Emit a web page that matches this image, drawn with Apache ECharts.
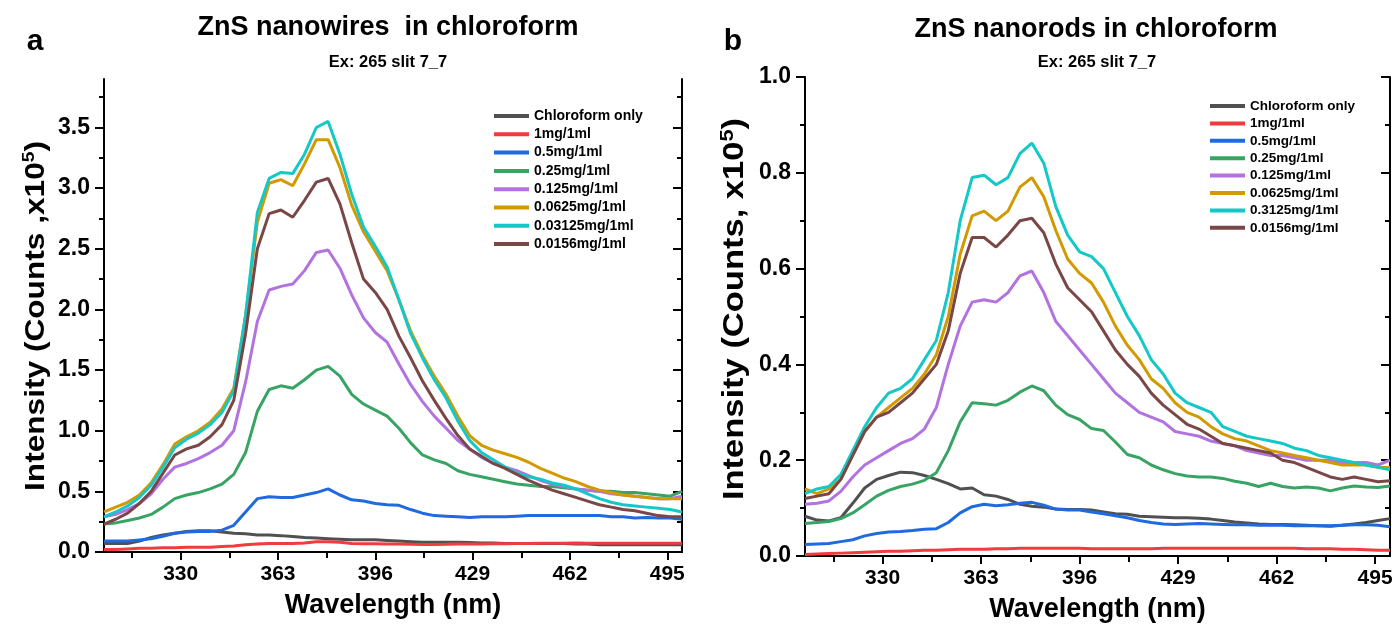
<!DOCTYPE html>
<html>
<head>
<meta charset="utf-8">
<script src="https://cdn.jsdelivr.net/npm/echarts@6/dist/echarts.min.js"></script>
<style>
	html, body { margin: 0; padding: 0; background: #fff; }
	#chart { width: 1397px; height: 628px; }
</style>
</head>
<body>
<div id="chart"></div>
<script>
	"use strict";
	// wavelength (nm), shared by both panels
	var wavelength = [304, 308, 312, 316, 320, 324, 328, 332, 336, 340, 344, 348, 352, 356, 360, 364, 368, 372, 376, 380,
		384, 388, 392, 396, 400, 404, 408, 412, 416, 420, 424, 428, 432, 436, 440, 444, 448, 452, 456, 460,
		464, 468, 472, 476, 480, 484, 488, 492, 496, 500];

	var xMajorTicks = [330, 363, 396, 429, 462, 495];
	var xMinorTicks = [313.5, 346.5, 379.5, 412.5, 445.5, 478.5];
	var yMajorTicksA = [0, 0.5, 1, 1.5, 2, 2.5, 3, 3.5];
	var yMinorTicksA = [0.25, 0.75, 1.25, 1.75, 2.25, 2.75, 3.25, 3.75];
	var yMajorTicksB = [0, 0.2, 0.4, 0.6, 0.8, 1];
	var yMinorTicksB = [0.1, 0.3, 0.5, 0.7, 0.9];

	var namesA = ['Chloroform only', '1mg/1ml', '0.5mg/1ml', '0.25mg/1ml', '0.125mg/1ml', '0.0625mg/1ml', '0.03125mg/1ml', '0.0156mg/1ml'];
	var namesB = ['Chloroform only', '1mg/1ml', '0.5mg/1ml', '0.25mg/1ml', '0.125mg/1ml', '0.0625mg/1ml', '0.3125mg/1ml', '0.0156mg/1ml'];
	var colors = ['#505050', '#f03c3c', '#1f6ae0', '#38a464', '#b272e0', '#d29a00', '#14c8c8', '#7a4646'];

	// panel a : ZnS nanowires (x10^5 counts)
	var chloroA = [0.07, 0.07, 0.07, 0.09, 0.12, 0.14, 0.155, 0.17, 0.175, 0.175, 0.165, 0.155, 0.15, 0.14, 0.14, 0.135, 0.128, 0.12, 0.115, 0.11,
		0.105, 0.1, 0.1, 0.1, 0.095, 0.09, 0.085, 0.08, 0.08, 0.08, 0.08, 0.078, 0.075, 0.075, 0.07, 0.07, 0.07, 0.07, 0.07, 0.07,
		0.065, 0.065, 0.06, 0.06, 0.06, 0.06, 0.06, 0.06, 0.06, 0.06];
	var mg1A = [0.02, 0.02, 0.025, 0.03, 0.03, 0.035, 0.035, 0.04, 0.04, 0.04, 0.045, 0.05, 0.06, 0.065, 0.07, 0.07, 0.07, 0.075, 0.085, 0.085,
		0.08, 0.07, 0.068, 0.068, 0.065, 0.065, 0.063, 0.062, 0.062, 0.063, 0.065, 0.065, 0.065, 0.067, 0.068, 0.07, 0.07, 0.072, 0.072, 0.073,
		0.075, 0.073, 0.073, 0.073, 0.073, 0.073, 0.073, 0.073, 0.073, 0.073];
	var mg05A = [0.09, 0.09, 0.09, 0.1, 0.11, 0.13, 0.155, 0.165, 0.17, 0.17, 0.18, 0.22, 0.33, 0.44, 0.455, 0.45, 0.45, 0.47, 0.49, 0.52,
		0.47, 0.43, 0.42, 0.4, 0.39, 0.385, 0.35, 0.32, 0.3, 0.295, 0.29, 0.285, 0.29, 0.29, 0.29, 0.295, 0.3, 0.3, 0.3, 0.3,
		0.3, 0.3, 0.3, 0.29, 0.29, 0.28, 0.285, 0.28, 0.28, 0.27];
	var mg025A = [0.23, 0.24, 0.26, 0.28, 0.31, 0.37, 0.44, 0.47, 0.49, 0.52, 0.56, 0.64, 0.82, 1.16, 1.34, 1.37, 1.35, 1.42, 1.5, 1.53,
		1.45, 1.3, 1.22, 1.17, 1.12, 1.02, 0.9, 0.8, 0.76, 0.73, 0.67, 0.64, 0.62, 0.6, 0.58, 0.56, 0.55, 0.54, 0.54, 0.53,
		0.52, 0.51, 0.5, 0.5, 0.49, 0.49, 0.48, 0.47, 0.46, 0.5];
	var mg0125A = [0.29, 0.31, 0.35, 0.4, 0.48, 0.6, 0.7, 0.73, 0.77, 0.82, 0.88, 1.0, 1.4, 1.9, 2.16, 2.19, 2.21, 2.32, 2.47, 2.49,
		2.34, 2.12, 1.93, 1.81, 1.73, 1.55, 1.38, 1.24, 1.12, 1.02, 0.92, 0.85, 0.78, 0.73, 0.7, 0.67, 0.63, 0.59, 0.56, 0.54,
		0.52, 0.51, 0.5, 0.48, 0.47, 0.46, 0.45, 0.44, 0.44, 0.46];
	var mg00625A = [0.33, 0.37, 0.41, 0.47, 0.57, 0.72, 0.89, 0.95, 1.0, 1.07, 1.18, 1.35, 1.95, 2.72, 3.04, 3.07, 3.02, 3.2, 3.4, 3.4,
		3.17, 2.86, 2.64, 2.48, 2.32, 2.08, 1.82, 1.62, 1.45, 1.3, 1.12, 0.96, 0.88, 0.84, 0.81, 0.78, 0.74, 0.69, 0.65, 0.61,
		0.58, 0.54, 0.51, 0.49, 0.47, 0.46, 0.45, 0.44, 0.44, 0.44];
	var mg003125A = [0.29, 0.33, 0.38, 0.45, 0.55, 0.7, 0.86, 0.93, 0.98, 1.05, 1.15, 1.33, 1.95, 2.8, 3.08, 3.13, 3.12, 3.28, 3.5, 3.55,
		3.28, 2.95, 2.68, 2.52, 2.35, 2.08, 1.8, 1.6, 1.42, 1.27, 1.08, 0.92, 0.82, 0.76, 0.7, 0.65, 0.62, 0.6, 0.57, 0.55,
		0.52, 0.48, 0.44, 0.41, 0.39, 0.38, 0.37, 0.36, 0.35, 0.33];
	var mg00156A = [0.23, 0.27, 0.32, 0.4, 0.5, 0.65, 0.8, 0.85, 0.88, 0.95, 1.05, 1.25, 1.8, 2.5, 2.79, 2.82, 2.76, 2.9, 3.05, 3.08,
		2.87, 2.55, 2.25, 2.14, 2.0, 1.78, 1.6, 1.41, 1.25, 1.1, 0.96, 0.85, 0.79, 0.73, 0.69, 0.64, 0.59, 0.55, 0.51, 0.48,
		0.45, 0.42, 0.39, 0.37, 0.35, 0.34, 0.32, 0.3, 0.29, 0.29];

	// panel b : ZnS nanorods (x10^5 counts)
	var chloroB = [0.083, 0.075, 0.073, 0.08, 0.11, 0.142, 0.16, 0.168, 0.175, 0.174, 0.168, 0.16, 0.151, 0.14, 0.142, 0.128, 0.125, 0.118, 0.108, 0.104,
		0.102, 0.098, 0.097, 0.097, 0.096, 0.092, 0.088, 0.087, 0.083, 0.082, 0.081, 0.08, 0.08, 0.079, 0.077, 0.074, 0.071, 0.069, 0.067, 0.066,
		0.066, 0.065, 0.064, 0.063, 0.062, 0.064, 0.067, 0.07, 0.074, 0.078];
	var mg1B = [0.003, 0.004, 0.005, 0.006, 0.007, 0.008, 0.009, 0.01, 0.01, 0.011, 0.012, 0.012, 0.013, 0.014, 0.014, 0.014, 0.015, 0.015, 0.016, 0.016,
		0.016, 0.016, 0.016, 0.016, 0.015, 0.015, 0.015, 0.015, 0.015, 0.015, 0.016, 0.016, 0.016, 0.016, 0.016, 0.016, 0.016, 0.016, 0.016, 0.016,
		0.016, 0.016, 0.015, 0.015, 0.015, 0.014, 0.014, 0.013, 0.012, 0.012];
	var mg05B = [0.024, 0.025, 0.026, 0.03, 0.034, 0.042, 0.047, 0.05, 0.051, 0.053, 0.056, 0.057, 0.07, 0.09, 0.103, 0.108, 0.105, 0.107, 0.11, 0.112,
		0.106, 0.098, 0.096, 0.096, 0.092, 0.088, 0.084, 0.08, 0.074, 0.07, 0.067, 0.066, 0.067, 0.068, 0.067, 0.066, 0.065, 0.065, 0.064, 0.064,
		0.064, 0.063, 0.063, 0.063, 0.063, 0.064, 0.065, 0.065, 0.064, 0.061];
	var mg025B = [0.068, 0.07, 0.072, 0.078, 0.09, 0.107, 0.125, 0.137, 0.145, 0.15, 0.158, 0.174, 0.22, 0.28, 0.32, 0.318, 0.315, 0.325, 0.342, 0.355,
		0.345, 0.315, 0.295, 0.285, 0.266, 0.262, 0.238, 0.212, 0.205, 0.19, 0.18, 0.172, 0.167, 0.165, 0.165, 0.162, 0.156, 0.152, 0.145, 0.152,
		0.145, 0.142, 0.144, 0.142, 0.136, 0.142, 0.146, 0.144, 0.143, 0.146];
	var mg0125B = [0.108, 0.11, 0.115, 0.135, 0.165, 0.19, 0.205, 0.22, 0.235, 0.245, 0.265, 0.31, 0.4, 0.48, 0.53, 0.535, 0.53, 0.55, 0.585, 0.595,
		0.55, 0.49, 0.46, 0.43, 0.4, 0.37, 0.34, 0.32, 0.3, 0.29, 0.28, 0.26, 0.255, 0.25, 0.24, 0.235, 0.23, 0.22, 0.215, 0.21,
		0.21, 0.205, 0.2, 0.2, 0.2, 0.195, 0.195, 0.195, 0.19, 0.2];
	var mg00625B = [0.14, 0.13, 0.14, 0.16, 0.21, 0.26, 0.29, 0.31, 0.33, 0.35, 0.38, 0.42, 0.5, 0.63, 0.71, 0.72, 0.7, 0.72, 0.77, 0.79,
		0.75, 0.68, 0.62, 0.59, 0.57, 0.53, 0.48, 0.44, 0.41, 0.37, 0.35, 0.32, 0.3, 0.29, 0.27, 0.255, 0.245, 0.24, 0.23, 0.22,
		0.215, 0.21, 0.205, 0.2, 0.195, 0.19, 0.19, 0.19, 0.185, 0.185];
	var mg03125B = [0.13, 0.14, 0.145, 0.17, 0.22, 0.27, 0.31, 0.34, 0.35, 0.37, 0.41, 0.45, 0.55, 0.7, 0.79, 0.795, 0.775, 0.79, 0.84, 0.862,
		0.82, 0.73, 0.67, 0.635, 0.625, 0.6, 0.55, 0.5, 0.46, 0.41, 0.38, 0.34, 0.32, 0.31, 0.3, 0.27, 0.26, 0.25, 0.245, 0.24,
		0.235, 0.225, 0.22, 0.21, 0.205, 0.2, 0.195, 0.19, 0.185, 0.18];
	var mg00156B = [0.12, 0.125, 0.13, 0.16, 0.21, 0.26, 0.29, 0.3, 0.32, 0.34, 0.37, 0.4, 0.47, 0.59, 0.665, 0.665, 0.645, 0.67, 0.7, 0.705,
		0.675, 0.61, 0.56, 0.535, 0.51, 0.47, 0.43, 0.4, 0.375, 0.34, 0.315, 0.295, 0.275, 0.265, 0.25, 0.235, 0.23, 0.225, 0.22, 0.215,
		0.2, 0.195, 0.185, 0.175, 0.165, 0.16, 0.165, 0.16, 0.155, 0.157];

	var valuesA = [chloroA, mg1A, mg05A, mg025A, mg0125A, mg00625A, mg003125A, mg00156A];
	var valuesB = [chloroB, mg1B, mg05B, mg025B, mg0125B, mg00625B, mg03125B, mg00156B];

	var FONT = 'Liberation Sans, Arial, sans-serif';

	var chart = echarts.init(document.getElementById('chart'));

	function pairs(vals) {
		return wavelength.map(function (w, i) { return [w, vals[i]]; });
	}

	// 4 axes for one direction of one grid: main, main minor ticks, mirror, mirror minor ticks
	function makeAxes(gridIndex, isX, min, max, major, minor, opts) {
		var posA = isX ? 'bottom' : 'left';
		var posB = isX ? 'top' : 'right';
		var base = { type: 'value', gridIndex: gridIndex, min: min, max: max, splitLine: { show: false }, silent: true };
		var line = { show: true, lineStyle: { color: '#000', width: 2 } };
		var main = Object.assign({}, base, {
			position: posA,
			axisLine: line,
			axisTick: { show: true, customValues: major, length: opts.majorLen, lineStyle: { color: '#000', width: 2 } },
			axisLabel: {
				show: true, customValues: major, margin: opts.labelMargin,
				color: '#000', fontFamily: FONT, fontWeight: 'bold', fontSize: opts.labelSize,
				formatter: opts.formatter
			},
			name: opts.name, nameLocation: 'middle', nameGap: opts.nameGap,
			nameTextStyle: opts.nameStyle
		});
		var mainMinor = Object.assign({}, base, {
			position: posA,
			axisLine: { show: false },
			axisTick: { show: true, customValues: minor, length: opts.minorLen, lineStyle: { color: '#000', width: 2 } },
			axisLabel: { show: false }
		});
		var mirror = Object.assign({}, base, {
			position: posB,
			axisLine: line,
			axisTick: { show: true, inside: true, customValues: major, length: opts.majorLen, lineStyle: { color: '#000', width: 2 } },
			axisLabel: { show: false }
		});
		var mirrorMinor = Object.assign({}, base, {
			position: posB,
			axisLine: { show: false },
			axisTick: { show: true, inside: true, customValues: minor, length: opts.minorLen, lineStyle: { color: '#000', width: 2 } },
			axisLabel: { show: false }
		});
		return [main, mainMinor, mirror, mirrorMinor];
	}

	var xNameStyle = { color: '#000', fontFamily: FONT, fontWeight: 'bold', fontSize: 27 };
	function fmt1(v) { return v.toFixed(1); }

	var xAxes = []
		.concat(makeAxes(0, true, 304, 500, xMajorTicks, xMinorTicks, {
			majorLen: 8, minorLen: 6, labelMargin: 12, labelSize: 21, name: 'Wavelength (nm)', nameGap: 40, nameStyle: xNameStyle
		}))
		.concat(makeAxes(1, true, 304, 500, xMajorTicks, xMinorTicks, {
			majorLen: 8, minorLen: 6, labelMargin: 12, labelSize: 21, name: 'Wavelength (nm)', nameGap: 40, nameStyle: xNameStyle
		}));
	var yAxes = []
		.concat(makeAxes(0, false, 0, 3.9, yMajorTicksA, yMinorTicksA, {
			majorLen: 9, minorLen: 5, labelMargin: 14, labelSize: 23, formatter: fmt1
		}))
		.concat(makeAxes(1, false, 0, 1, yMajorTicksB, yMinorTicksB, {
			majorLen: 9, minorLen: 5, labelMargin: 14, labelSize: 23, formatter: fmt1
		}));

	var series = [];
	valuesA.forEach(function (vals, i) {
		series.push({
			name: namesA[i], type: 'line', xAxisIndex: 0, yAxisIndex: 0, data: pairs(vals),
			symbol: 'none', smooth: false, animation: false, color: colors[i],
			lineStyle: { width: 3, color: colors[i] }
		});
	});
	valuesB.forEach(function (vals, i) {
		series.push({
			name: namesB[i], type: 'line', xAxisIndex: 4, yAxisIndex: 4, data: pairs(vals),
			symbol: 'none', smooth: false, animation: false, color: colors[i],
			lineStyle: { width: 3, color: colors[i] }
		});
	});

	function legendFor(names, left, top, gap, size) {
		return {
			data: names, orient: 'vertical', left: left, top: top, padding: 0,
			itemWidth: 35, itemHeight: 4, itemGap: gap, icon: 'rect',
			selectedMode: false,
			textStyle: { color: '#000', fontFamily: FONT, fontWeight: 'bold', fontSize: size, lineHeight: 14 }
		};
	}

	function label(x, y, text, size) {
		return {
			type: 'text', x: x, y: y, silent: true,
			style: { text: text, fill: '#000', font: 'bold ' + size + 'px ' + FONT, textAlign: 'center', textVerticalAlign: 'middle' }
		};
	}

	// rotated y-axis title, stretched along its length like the original artwork
	function yTitle(x, y, text, size, stretch) {
		return {
			type: 'text', x: x, y: y, rotation: Math.PI / 2, scaleX: stretch, silent: true,
			style: {
				text: text, fill: '#000', font: 'bold ' + size + 'px ' + FONT,
				textAlign: 'center', textVerticalAlign: 'middle',
				rich: {
					sup: { font: 'bold ' + Math.round(size * 0.62) + 'px ' + FONT, fill: '#000', verticalAlign: 'top', padding: [0, 0, size * 0.45, 0] }
				}
			}
		};
	}

	var option = {
		backgroundColor: '#fff',
		animation: false,
		grid: [
			{ left: 104, top: 79, width: 578, height: 473 },
			{ left: 805, top: 77, width: 585, height: 479 }
		],
		xAxis: xAxes,
		yAxis: yAxes,
		legend: [
			legendFor(namesA, 494, 109, 4.3, 14),
			legendFor(namesB, 1210, 99, 3.4, 13.5)
		],
		graphic: {
			elements: [
				label(35, 42, 'a', 30),
				label(733, 42, 'b', 30),
				label(388, 28, 'ZnS nanowires  in chloroform', 27),
				label(1096, 30, 'ZnS nanorods in chloroform', 27),
				label(388, 62, 'Ex: 265 slit 7_7', 16.5),
				label(1097, 62, 'Ex: 265 slit 7_7', 16.5),
				yTitle(36, 316, 'Intensity (Counts ,x10{sup|5})', 28, 1.13),
				yTitle(735, 309, 'Intensity (Counts, x10{sup|5})', 30, 1.15)
			]
		},
		series: series
	};

	chart.setOption(option);
</script>
</body>
</html>
